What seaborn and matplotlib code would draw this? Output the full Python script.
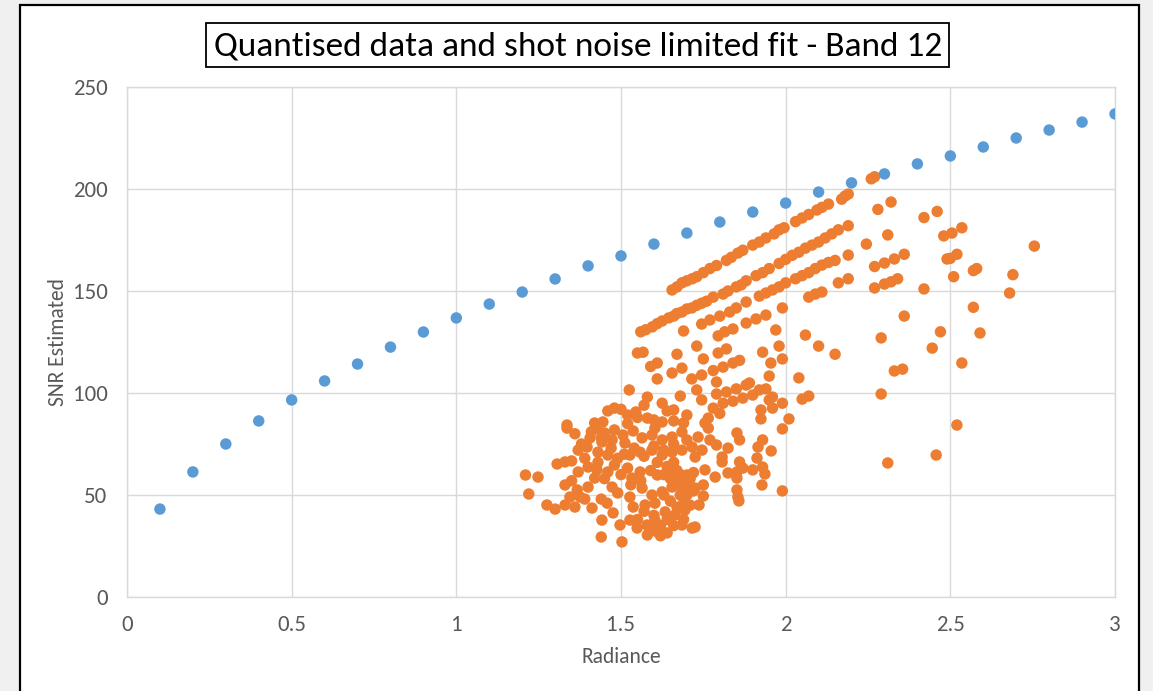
import matplotlib
matplotlib.use("Agg")
import matplotlib.pyplot as plt
import seaborn as sns
import pandas as pd
from matplotlib import font_manager
from matplotlib.patches import Rectangle

# ---------------- data ----------------
title_text = "Quantised data and shot noise limited fit - Band 12"
x_label = "Radiance"
y_label = "SNR Estimated"
x_ticks = [0, 0.5, 1, 1.5, 2, 2.5, 3]
x_tick_labels = ["0", "0.5", "1", "1.5", "2", "2.5", "3"]
y_ticks = [0, 50, 100, 150, 200, 250]
y_tick_labels = ["0", "50", "100", "150", "200", "250"]

fit_x = [0.1, 0.2, 0.3, 0.4, 0.5, 0.6, 0.7, 0.8, 0.9, 1.0,
         1.1, 1.2, 1.3, 1.4, 1.5, 1.6, 1.7, 1.8, 1.9, 2.0,
         2.1, 2.2, 2.3, 2.4, 2.5, 2.6, 2.7, 2.8, 2.9, 3.0]
fit_y = [43.1, 61.3, 75.0, 86.3, 96.6, 105.9, 114.2, 122.5, 129.9, 136.8,
         143.6, 149.5, 155.9, 162.3, 167.2, 173.0, 178.4, 183.8, 188.7, 193.1,
         198.5, 203.0, 207.4, 212.3, 216.2, 220.6, 225.0, 228.9, 232.8, 236.8]

quant_x = [
    # top band
    1.655, 1.67, 1.685, 1.70, 1.716, 1.73, 1.75, 1.77, 1.79, 1.82, 1.835, 1.855, 1.87, 1.90, 1.92,
    1.94, 1.965, 1.98, 1.995, 2.03, 2.05, 2.07, 2.095, 2.11, 2.13, 2.17, 2.18, 2.19, 2.26, 2.27,
    # second band
    1.56, 1.575, 1.595, 1.61, 1.625, 1.645, 1.66, 1.67, 1.685, 1.70, 1.715, 1.73, 1.745, 1.76, 1.78,
    1.81, 1.825, 1.85, 1.865, 1.88, 1.91, 1.93, 1.95, 1.98, 2.0, 2.02, 2.04, 2.06, 2.08, 2.10,
    2.12, 2.14, 2.16, 2.19,
    # third band
    1.745, 1.77, 1.80, 1.83, 1.85, 1.88, 1.92, 1.94, 1.96, 1.98, 2.0, 2.03, 2.05, 2.07, 2.09,
    2.11, 2.13, 2.15, 2.19,
    # fourth band
    1.73, 1.795, 1.815, 1.84, 1.88, 1.91, 1.94, 1.99, 2.07, 2.09, 2.11, 2.16, 2.19,
    # middle group
    1.745, 1.78, 1.81, 1.84, 1.86, 1.75, 1.795, 1.82, 1.93, 1.98, 2.06, 2.10, 2.15, 1.97, 1.99,
    1.955, 1.95, 2.04, 1.79,
    # around 100
    1.73, 1.82, 1.85, 1.88, 1.89, 1.79, 1.92, 1.94, 1.745, 1.81, 1.84, 1.87, 1.90, 1.96, 2.05,
    2.07, 1.78, 1.95, 1.96, 1.99, 1.925, 1.80, 1.765, 1.925, 2.01, 1.755,
    # right side scatter
    2.245, 2.32, 2.28, 2.46, 2.42, 2.535, 2.31, 2.505, 2.48, 2.755, 2.36, 2.33, 2.30, 2.27, 2.52,
    2.50, 2.49, 2.58, 2.57, 2.69, 2.34, 2.32, 2.30, 2.27, 2.51, 2.42, 2.68,
    2.57, 2.36, 2.29, 2.47, 2.59, 2.445, 2.535, 2.33, 2.355, 2.29, 2.52, 2.457, 2.31,
    # 1.3 - 1.72, 85 - 130
    1.69, 1.55, 1.567, 1.67, 1.59, 1.61, 1.685, 1.655, 1.61, 1.715, 1.525, 1.58, 1.68, 1.625, 1.48,
    1.46, 1.545, 1.52, 1.64, 1.66, 1.70, 1.58, 1.60, 1.336, 1.42, 1.445, 1.625, 1.66, 1.69,
    # dense cloud
    1.336, 1.36, 1.427, 1.45, 1.48, 1.506, 1.537, 1.406, 1.442, 1.473, 1.512, 1.564, 1.594, 1.603, 1.625,
    1.655, 1.685, 1.70, 1.37, 1.397, 1.43, 1.46, 1.49, 1.527, 1.558, 1.594, 1.625, 1.655, 1.685, 1.716,
    1.306, 1.33, 1.35, 1.37, 1.40, 1.427, 1.42, 1.46, 1.48, 1.52, 1.533, 1.558, 1.61, 1.655, 1.67,
    1.70, 1.21, 1.248, 1.22, 1.33, 1.367, 1.40, 1.473, 1.564, 1.594, 1.625, 1.655, 1.685, 1.275, 1.30,
    1.33, 1.345, 1.376, 1.36, 1.412, 1.458, 1.476, 1.527, 1.537, 1.573, 1.603, 1.634, 1.664, 1.694, 1.442,
    1.497, 1.527, 1.549, 1.579, 1.603, 1.58, 1.61, 1.64, 1.685, 1.716, 1.44, 1.503,
    # dense blob fill
    1.63, 1.64, 1.65, 1.66, 1.67, 1.68, 1.69, 1.70, 1.71, 1.72, 1.66, 1.68, 1.70, 1.72, 1.69,
    1.71, 1.65, 1.63, 1.67, 1.64, 1.66, 1.69, 1.62, 1.60, 1.57, 1.55, 1.59, 1.62, 1.56, 1.59,
    1.61, 1.57, 1.63, 1.66, 1.60, 1.54, 1.51, 1.47, 1.44, 1.41, 1.39, 1.43, 1.45, 1.50, 1.53,
    1.49, 1.44, 1.39, 1.35, 1.38, 1.52, 1.55, 1.50, 1.57,
    # 1.72 - 2.0, 30 - 85
    1.765, 1.734, 1.77, 1.79, 1.825, 1.852, 1.86, 1.93, 1.916, 1.956, 1.99, 1.746, 1.725, 1.807, 1.807,
    1.86, 1.913, 1.755, 1.786, 1.825, 1.852, 1.87, 1.90, 1.93, 1.937, 1.852, 1.928, 1.75, 1.725, 1.852,
    1.855, 1.858, 1.99, 1.75, 1.737, 1.725,
]
quant_y = [
    # top band
    150.5, 152, 154, 155, 156, 157, 159, 161, 162.5, 165, 166.5, 168.6, 170, 172.5, 174,
    176, 178, 180, 181, 184, 185.8, 187.5, 189.7, 191, 192.6, 195, 196.5, 197.5, 205, 206,
    # second band
    130, 131, 132.4, 134, 135.3, 136.8, 137.7, 139, 139.7, 141.2, 141.7, 143, 144, 145, 147,
    148.5, 150, 152, 153, 155, 157.5, 159, 161, 163.5, 165.5, 167.5, 169, 171, 172.5, 174,
    176, 178, 180, 182,
    # third band
    133.8, 135.8, 137.7, 139.7, 141.7, 144.6, 147.5, 149, 150.5, 152, 154, 156, 157.5, 159, 161,
    162.7, 164, 165, 167.6,
    # fourth band
    123, 128, 130, 131.4, 134.3, 136.3, 138.2, 141.7, 147, 148.5, 149.5, 154, 156,
    # middle group
    108.8, 111, 112.7, 114.7, 116, 116.7, 119.6, 121.6, 120, 123, 128.4, 123, 119, 130.9, 116.7,
    114.7, 108.3, 107.4, 105.4,
    # around 100
    101.5, 100.5, 102, 103.9, 104.9, 99.5, 101.5, 102, 96.6, 95, 96, 97.5, 99, 98, 97,
    98.5, 92.6, 96.6, 92.6, 95, 91.7, 90, 87.7, 87.3, 87.3, 85.3,
    # right side scatter
    173, 193.6, 190, 189, 186, 181, 177.5, 178.4, 177, 172, 168, 165.7, 163.7, 162, 168,
    166, 165.7, 161, 160, 158, 156, 154.5, 153.4, 151.5, 157, 151, 149,
    142, 137.7, 127, 130, 129.4, 122, 114.7, 110.8, 111.7, 99.5, 84.3, 69.6, 65.7,
    # 1.3 - 1.72, 85 - 130
    130.4, 119.6, 120, 119, 113, 114.7, 112.2, 109.8, 106.9, 106.9, 101.5, 98, 98.5, 95, 92.6,
    91.2, 90.7, 89.2, 91.2, 91.7, 89.2, 87.7, 86.8, 84.3, 85.3, 85.8, 85.8, 86.3, 85.3,
    # dense cloud
    82.8, 80, 82.8, 80.4, 81.9, 79.4, 81.4, 78, 76, 77, 75.5, 78, 79.4, 82.8, 77,
    78.4, 80.9, 77, 72, 73.5, 71, 69.6, 68, 69.6, 71, 72, 69.6, 71, 72, 73.5,
    65.2, 66.2, 66.7, 61.3, 63.7, 62.3, 58.3, 61.3, 64.7, 63.2, 58.3, 61.3, 59.8, 61.3, 58.3,
    59.8, 59.8, 58.8, 50.5, 54.9, 52.5, 53.9, 53.9, 53.4, 50, 51.5, 53.9, 53.4, 45.1, 43.1,
    45.1, 49, 49, 44.1, 43.6, 46, 41.2, 49, 44.1, 45.1, 46, 41.7, 40.2, 42.6, 37.7,
    35.3, 37.7, 33.8, 35.3, 37.7, 30.4, 31.9, 31.4, 35.3, 33.8, 29.4, 27,
    # dense blob fill
    60, 64, 58, 55, 62, 60, 57, 55, 58, 61, 66, 50, 50, 52, 46,
    45, 47, 50, 44, 38, 35, 38, 35, 40, 42, 38, 33, 30, 57, 62,
    66, 69, 72, 75, 74, 73, 70, 73, 78, 81, 68, 66, 58, 60, 55,
    51, 48, 48, 57, 75, 85, 88, 92, 94,
    # 1.72 - 2.0, 30 - 85
    82.8, 78.4, 77, 74.5, 73, 80.4, 77, 77, 73.5, 71.6, 82.4, 72, 68.6, 68.6, 66.2,
    66.2, 68.1, 62.3, 58.8, 60.8, 61.3, 63.2, 62.3, 63.7, 60.3, 58.3, 54.9, 54.9, 53.4, 52.5,
    49, 47.1, 52, 49.5, 45.1, 34.3,
]

# ---------------- style ----------------
W, H = 1153, 691
sns.set_style("white")
avail = {f.name for f in font_manager.fontManager.ttflist}
fam = next((f for f in ["Carlito", "Liberation Sans Narrow", "Open Sans"] if f in avail), "DejaVu Sans")
plt.rcParams['font.family'] = [fam, 'DejaVu Sans']

fig = plt.figure(figsize=(W / 100, H / 100), dpi=100)
fig.patch.set_facecolor('#f0f0f0')
# white chart frame (behind everything)
frame = Rectangle((20 / W, -0.05), (1139 - 20) / W, 1.05 - 5 / H,
                  transform=fig.transFigure, facecolor='white',
                  edgecolor='black', linewidth=1.6, zorder=-10)
fig.patches.append(frame)

ax = fig.add_axes([127 / W, 1 - 597 / H, (1115 - 127) / W, (597 - 87) / H])
ax.set_zorder(5)
ax.set_facecolor('white')

df_q = pd.DataFrame({"Radiance": quant_x, "SNR": quant_y})
df_f = pd.DataFrame({"Radiance": fit_x, "SNR": fit_y})
sns.scatterplot(data=df_q, x="Radiance", y="SNR", color='#ED7D31', s=68,
                edgecolor='none', linewidth=0, ax=ax, zorder=3)
sns.scatterplot(data=df_f, x="Radiance", y="SNR", color='#5B9BD5', s=68,
                edgecolor='none', linewidth=0, ax=ax, zorder=4)

ax.set_xlim(0, 3)
ax.set_ylim(0, 250)
ax.set_xticks(x_ticks)
ax.set_xticklabels(x_tick_labels)
ax.set_yticks(y_ticks)
ax.set_yticklabels(y_tick_labels)
ax.grid(True, color='#d9d9d9', linewidth=1.0, zorder=0)
ax.set_axisbelow(True)
for s in ax.spines.values():
    s.set_color('#d9d9d9')
    s.set_linewidth(1.0)
ax.tick_params(axis='both', length=0, labelsize=16.5, colors='#595959')
ax.tick_params(axis='y', pad=14)
ax.tick_params(axis='x', pad=13)

ax.set_xlabel(x_label, fontsize=15.5, color='#595959')
ax.set_ylabel(y_label, fontsize=15.5, color='#595959')
ax.xaxis.set_label_coords(0.5, (597 - 657) / (597 - 87))
ax.xaxis.label.set_verticalalignment('center')
ax.yaxis.set_label_coords((58 - 127) / (1115 - 127), 0.5)
ax.yaxis.label.set_verticalalignment('center')

# title in a box
fig.patches.append(Rectangle((206 / W, 1 - 67 / H), (949 - 206) / W, 44 / H,
                             transform=fig.transFigure, facecolor='white',
                             edgecolor='black', linewidth=1.3, zorder=6))
t = fig.text(578 / W, 1 - 46 / H, title_text, ha='center', va='center',
             fontsize=21, color='black', zorder=7)
r = fig.canvas.get_renderer()
bw = t.get_window_extent(r).width
t.set_fontsize(21 * 731 / bw)

fig.savefig("out.png", dpi=100, facecolor=fig.get_facecolor())
